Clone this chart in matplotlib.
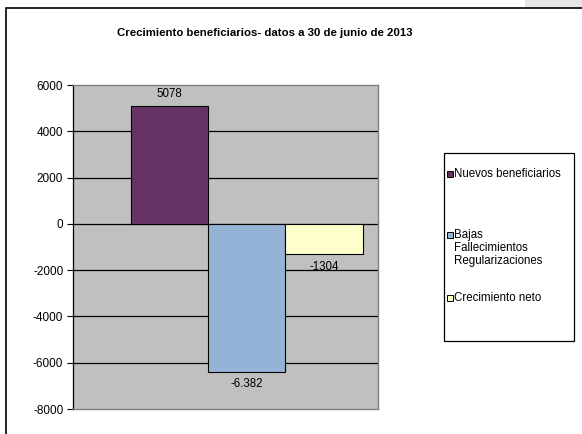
import matplotlib
matplotlib.use("Agg")
import matplotlib.pyplot as plt
from matplotlib.patches import Rectangle

plt.rcParams['font.family'] = ['Liberation Sans', 'DejaVu Sans']

title = "Crecimiento beneficiarios- datos a 30 de junio de 2013"
series = ["Nuevos beneficiarios", "Bajas\nFallecimientos\nRegularizaciones", "Crecimiento neto"]
values = [5078, -6382, -1304]
value_labels = ["5078", "-6.382", "-1304"]
colors = ["#663366", "#95B3D7", "#FFFFCC"]
yticks = [6000, 4000, 2000, 0, -2000, -4000, -6000, -8000]

W, H = 582, 434
fig = plt.figure(figsize=(W / 100, H / 100), dpi=100)
fig.patch.set_facecolor("white")

def fx(x):
    return x / W

def fy(y):
    return 1 - y / H

# top-right gray strip and outer frame
fig.add_artist(Rectangle((fx(525), fy(8)), 1 - fx(525), 1 - fy(8), transform=fig.transFigure,
                         facecolor="#E6E6E6", edgecolor="none", zorder=0))
fig.add_artist(Rectangle((fx(6), fy(440)), fx(600), fy(8) - fy(440), transform=fig.transFigure,
                         facecolor="white", edgecolor="black", linewidth=1.2, zorder=0.5))

ax = fig.add_axes([fx(73), fy(409), fx(378) - fx(73), fy(85) - fy(409)])
ax.set_facecolor("#C0C0C0")
ax.set_zorder(2)

x = [0, 1, 2]
bars = ax.bar(x, values, width=1.0, color=colors, edgecolor="black", linewidth=0.8, zorder=3)
ax.set_xlim(-1.25, 2.7)
ax.set_ylim(-8000, 6000)
ax.set_yticks(yticks)
ax.set_yticklabels([str(t) for t in yticks], fontsize=8.5)
ax.set_xticks([])
for t in yticks[1:-1]:
    ax.axhline(t, color="black", linewidth=0.9, zorder=1)
ax.tick_params(axis="y", direction="out", length=4, width=0.8, pad=3)
for side in ["top", "right", "bottom"]:
    ax.spines[side].set_color("#808080")
    ax.spines[side].set_linewidth(1.0)
ax.spines["left"].set_color("black")
ax.spines["left"].set_linewidth(0.9)

for b, v, lab in zip(bars, values, value_labels):
    cx = b.get_x() + b.get_width() / 2
    if v >= 0:
        ax.annotate(lab, (cx, v), xytext=(0, 9), textcoords="offset points",
                    ha="center", va="center", fontsize=8.3)
    else:
        ax.annotate(lab, (cx, v), xytext=(0, -9), textcoords="offset points",
                    ha="center", va="center", fontsize=8.3, zorder=4)

fig.text(fx(265), fy(33), title, ha="center", va="center", fontsize=8.2, fontweight="bold")

# legend drawn manually
fig.add_artist(Rectangle((fx(444), fy(341)), fx(574) - fx(444), fy(153) - fy(341),
                         transform=fig.transFigure, facecolor="white", edgecolor="black",
                         linewidth=0.9, zorder=3))
entry_y = [174, 235, 298]
for lab, c, yy in zip(series, colors, entry_y):
    fig.add_artist(Rectangle((fx(447), fy(yy + 3)), fx(6), fy(yy - 3) - fy(yy + 3),
                             transform=fig.transFigure, facecolor=c, edgecolor="black",
                             linewidth=0.7, zorder=4))
    fig.text(fx(454), fy(yy - 6), lab, ha="left", va="top", fontsize=8.3,
             linespacing=1.1, zorder=4)

fig.savefig("out.png", dpi=100)
